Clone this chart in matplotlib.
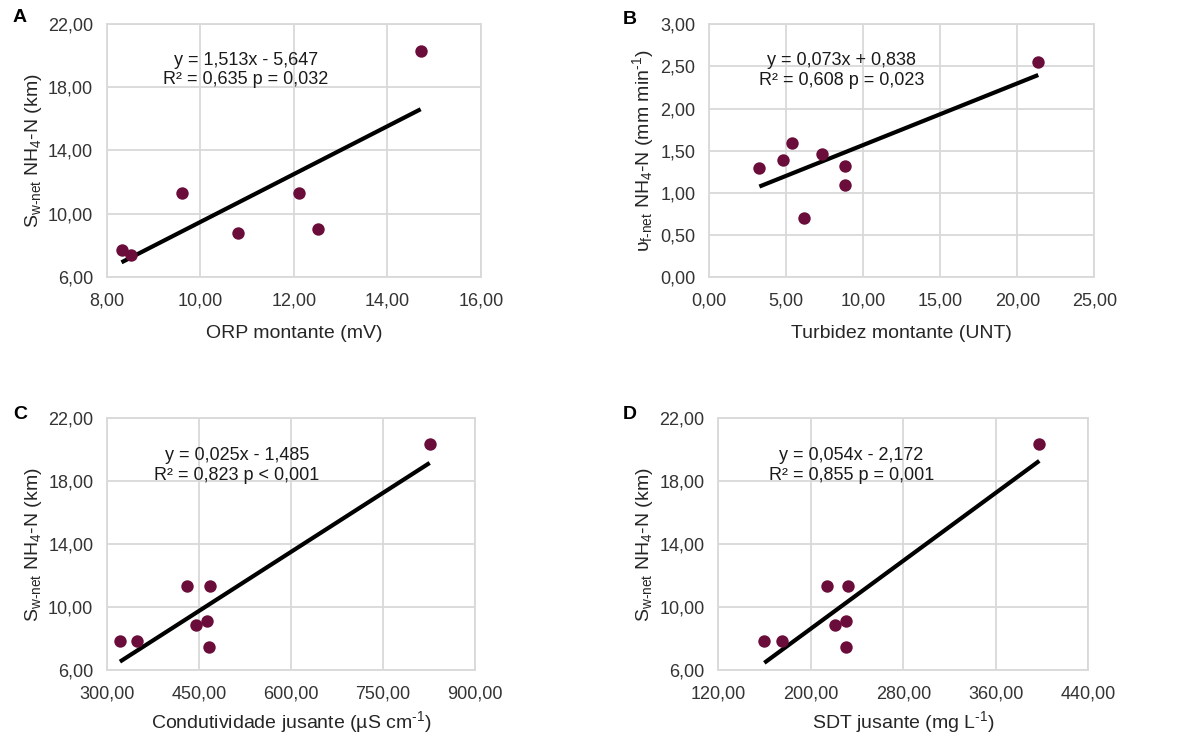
import numpy as np
import matplotlib
matplotlib.use("Agg")
import matplotlib.pyplot as plt

plt.rcParams['font.family'] = ['Liberation Sans', 'DejaVu Sans']
plt.rcParams['mathtext.fontset'] = 'custom'
plt.rcParams['mathtext.rm'] = 'Liberation Sans'
plt.rcParams['mathtext.it'] = 'Liberation Sans'

# A - ORP montante
orp_x = [8.31, 8.51, 9.60, 10.81, 12.11, 12.52, 14.71]
orp_y = [7.73, 7.37, 11.28, 8.77, 11.28, 9.04, 20.29]
orp_fit = (1.513, -5.647)

# B - Turbidez montante
turb_x = [3.25, 4.76, 5.37, 6.15, 7.29, 8.79, 8.83, 21.36]
turb_y = [1.30, 1.39, 1.59, 0.70, 1.46, 1.32, 1.09, 2.55]
turb_fit = (0.073, 0.838)

# C - Condutividade jusante
cond_x = [320.7, 347.8, 430.4, 445.1, 463.0, 467.4, 465.8, 826.1]
cond_y = [7.87, 7.87, 11.36, 8.86, 9.14, 11.36, 7.44, 20.35]
cond_fit = (0.025, -1.485)

# D - SDT jusante
sdt_x = [159.8, 175.4, 214.0, 220.6, 230.4, 231.9, 230.1, 397.6]
sdt_y = [7.87, 7.87, 11.36, 8.86, 9.14, 11.36, 7.44, 20.35]
sdt_fit = (0.054, -2.172)

ylab_sw = r'S$_{\mathregular{w\text{-}net}}$ NH$_{\mathregular{4}}$-N (km)'
ylab_uf = r'υ$_{\mathregular{f\text{-}net}}$ NH$_{\mathregular{4}}$-N (mm min$^{\mathregular{\text{-}1}}$)'

panels = [
    dict(x=orp_x, y=orp_y, fit=orp_fit, letter='A', letter_xy=(13, 9),
         rect=[0.0894, 0.6247, 0.3124, 0.3428],
         xlim=(8, 16), xt=np.arange(8, 16.1, 2), ylim=(6, 22), yt=np.arange(6, 22.1, 4),
         xlabel='ORP montante (mV)', ylabel=ylab_sw, xpad=11,
         eq='y = 1,513x - 5,647\nR² = 0,635 p = 0,032', eqpos=(0.372, 0.89)),
    dict(x=turb_x, y=turb_y, fit=turb_fit, letter='B', letter_xy=(623, 11),
         rect=[0.5926, 0.6243, 0.3216, 0.3430],
         xlim=(0, 25), xt=np.arange(0, 25.1, 5), ylim=(0, 3), yt=np.arange(0, 3.01, 0.5),
         xlabel='Turbidez montante (UNT)', ylabel=ylab_uf, xpad=11,
         eq='y = 0,073x + 0,838\nR² = 0,608 p = 0,023', eqpos=(0.344, 0.89)),
    dict(x=cond_x, y=cond_y, fit=cond_fit, letter='C', letter_xy=(13, 406),
         rect=[0.0896, 0.0921, 0.3072, 0.3410],
         xlim=(300, 900), xt=np.arange(300, 901, 150), ylim=(6, 22), yt=np.arange(6, 22.1, 4),
         xlabel=r'Condutividade jusante (µS cm$^{\mathregular{\text{-}1}}$)', ylabel=ylab_sw, xpad=5,
         eq='y = 0,025x - 1,485\nR² = 0,823 p < 0,001', eqpos=(0.353, 0.885)),
    dict(x=sdt_x, y=sdt_y, fit=sdt_fit, letter='D', letter_xy=(623, 406),
         rect=[0.6001, 0.0921, 0.3091, 0.3410],
         xlim=(120, 440), xt=np.arange(120, 441, 80), ylim=(6, 22), yt=np.arange(6, 22.1, 4),
         xlabel=r'SDT jusante (mg L$^{\mathregular{\text{-}1}}$)', ylabel=ylab_sw, xpad=5,
         eq='y = 0,054x - 2,172\nR² = 0,855 p = 0,001', eqpos=(0.36, 0.885)),
]

W, H = 1197, 738
fig = plt.figure(figsize=(W / 100, H / 100), dpi=100)
grid_c = '#d9d9d9'
dot_c = '#6b0d3a'

for p in panels:
    ax = fig.add_axes(p['rect'])
    x = np.array(p['x'])
    a, b = p['fit']
    xl = np.array([x.min(), x.max()])
    ax.plot(xl, a * xl + b, color='black', lw=3.0, zorder=2, solid_capstyle='butt')
    ax.scatter(x, p['y'], s=80, color=dot_c, zorder=3, linewidths=0)

    ax.set_xlim(*p['xlim'])
    ax.set_ylim(*p['ylim'])
    ax.set_xticks(p['xt'])
    ax.set_yticks(p['yt'])
    ax.set_xticklabels([f'{v:.2f}'.replace('.', ',') for v in p['xt']])
    ax.set_yticklabels([f'{v:.2f}'.replace('.', ',') for v in p['yt']])
    ax.tick_params(length=0, labelsize=13, colors='#333333')
    ax.tick_params(axis='x', pad=11)
    ax.tick_params(axis='y', pad=10)
    ax.grid(True, color=grid_c, lw=1.3, zorder=0)
    ax.set_axisbelow(True)
    for s in ax.spines.values():
        s.set_color(grid_c)
        s.set_linewidth(1.3)

    ax.set_xlabel(p['xlabel'], fontsize=14, color='#262626', labelpad=p['xpad'])
    ax.set_ylabel(p['ylabel'], fontsize=14, color='#262626', labelpad=3)
    ax.text(p['eqpos'][0], p['eqpos'][1], p['eq'], transform=ax.transAxes,
            fontsize=13, color='#1a1a1a', ha='center', va='top',
            multialignment='center', linespacing=1.2)

    lx, ly = p['letter_xy']
    fig.text(lx / W, 1 - ly / H, p['letter'], fontsize=14,
             fontweight='bold', ha='left', va='top')

fig.savefig('out.png', dpi=100)
